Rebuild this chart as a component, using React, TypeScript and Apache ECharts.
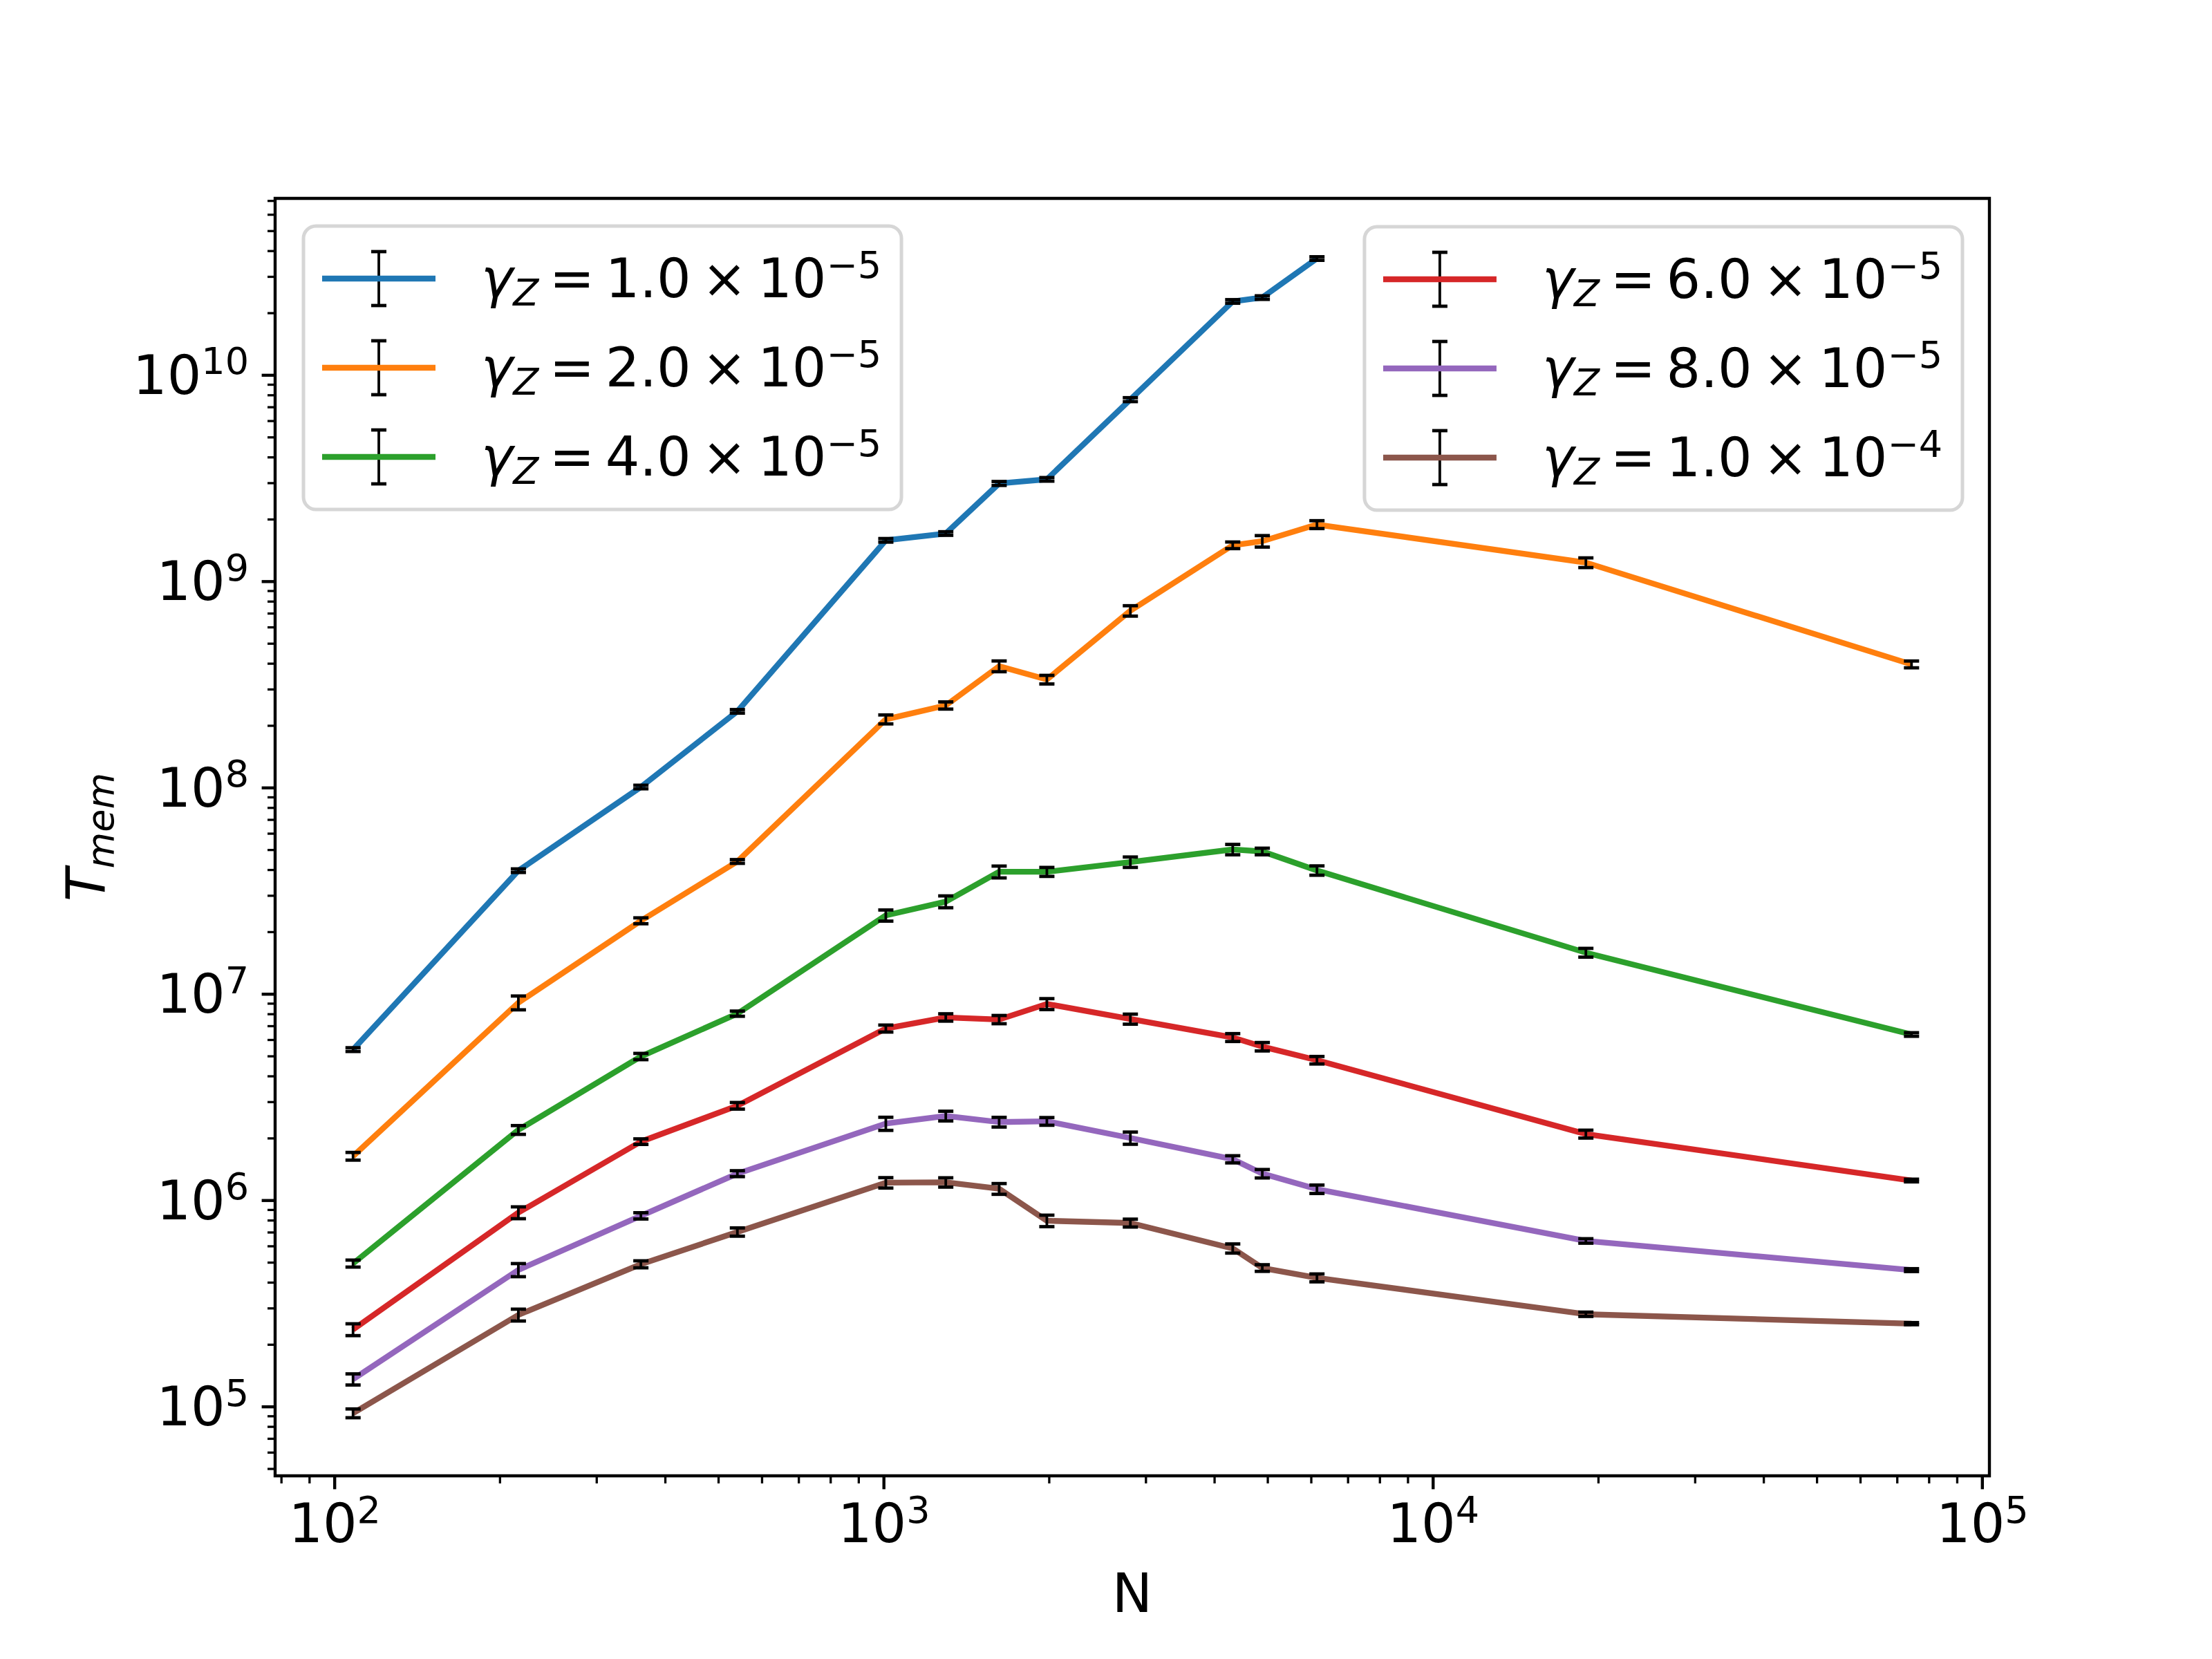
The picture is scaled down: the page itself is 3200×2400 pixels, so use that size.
import React, { useEffect, useRef } from 'react';
import * as echarts from 'echarts';

// ---- data ----
const N_VALUES = [108, 216, 361, 541, 1008, 1296, 1621, 1980, 2810, 4316, 4886, 6144, 18970, 74300];

const GAMMA_MANTISSA = ['1.0', '2.0', '4.0', '6.0', '8.0', '1.0'];
const GAMMA_EXPONENT = ['−5', '−5', '−5', '−5', '−5', '−4'];
const COLORS = ['#1f77b4', '#ff7f0e', '#2ca02c', '#d62728', '#9467bd', '#8c564b'];

const T_G1 = [5.39e6, 3.97e7, 1.01e8, 2.35e8, 1.585e9, 1.71e9, 2.99e9, 3.13e9, 7.62e9, 2.28e10, 2.38e10, 3.68e10];
const T_G2 = [1.64e6, 9.1e6, 2.27e7, 4.4e7, 2.15e8, 2.51e8, 3.89e8, 3.35e8, 7.22e8, 1.5e9, 1.57e9, 1.89e9, 1.236e9, 3.97e8];
const T_G4 = [4.95e5, 2.2e6, 4.99e6, 8.05e6, 2.41e7, 2.81e7, 3.92e7, 3.92e7, 4.37e7, 5.03e7, 4.92e7, 3.98e7, 1.59e7, 6.38e6];
const T_G6 = [2.37e5, 8.74e5, 1.93e6, 2.88e6, 6.82e6, 7.72e6, 7.54e6, 8.97e6, 7.58e6, 6.17e6, 5.57e6, 4.79e6, 2.1e6, 1.25e6];
const T_G8 = [1.36e5, 4.61e5, 8.43e5, 1.35e6, 2.36e6, 2.57e6, 2.4e6, 2.42e6, 2.01e6, 1.585e6, 1.35e6, 1.135e6, 6.37e5, 4.6e5];
const T_G10 = [9.31e4, 2.79e5, 4.91e5, 7.04e5, 1.22e6, 1.225e6, 1.14e6, 7.98e5, 7.78e5, 5.86e5, 4.71e5, 4.22e5, 2.81e5, 2.53e5];

// relative half-widths of the error bars
const E_G1 = [0.021, 0.02, 0.02, 0.02, 0.02, 0.02, 0.022, 0.02, 0.022, 0.02, 0.02, 0.02];
const E_G2 = [0.043, 0.077, 0.033, 0.021, 0.05, 0.04, 0.06, 0.048, 0.058, 0.037, 0.064, 0.044, 0.054, 0.038];
const E_G4 = [0.039, 0.049, 0.035, 0.029, 0.062, 0.066, 0.066, 0.05, 0.058, 0.058, 0.037, 0.052, 0.049, 0.02];
const E_G6 = [0.066, 0.066, 0.031, 0.037, 0.039, 0.041, 0.046, 0.061, 0.056, 0.044, 0.047, 0.042, 0.044, 0.015];
const E_G8 = [0.062, 0.073, 0.035, 0.033, 0.073, 0.054, 0.054, 0.043, 0.068, 0.04, 0.047, 0.047, 0.025, 0.016];
const E_G10 = [0.049, 0.066, 0.039, 0.046, 0.058, 0.052, 0.06, 0.064, 0.044, 0.051, 0.037, 0.044, 0.024, 0.012];

const SERIES_T = [T_G1, T_G2, T_G4, T_G6, T_G8, T_G10];
const SERIES_E = [E_G1, E_G2, E_G4, E_G6, E_G8, E_G10];

const X_MIN = 77.9;
const X_MAX = 103000;
const Y_MIN = 4.63e4;
const Y_MAX = 7.2e10;

// ---- style ----
const FONT = 'DejaVu Sans';
const FS = 78;
const SFS = 54;
const LH = 94;
const LINE_W = 8.3;
const TS = '\u2009'; // thin space, like mathtext spacing

const SERIES_NAMES = GAMMA_MANTISSA.map((m, i) => `γ_Z = ${m} × 10^${GAMMA_EXPONENT[i]}`);

const rich = {
  b: { fontFamily: FONT, fontSize: FS, lineHeight: LH, color: '#000' },
  i: { fontFamily: FONT, fontSize: FS, lineHeight: LH, color: '#000', fontStyle: 'italic' },
  s: { fontFamily: FONT, fontSize: SFS, lineHeight: SFS, color: '#000', verticalAlign: 'top' },
  sub: { fontFamily: FONT, fontSize: SFS, lineHeight: SFS, color: '#000', verticalAlign: 'bottom', fontStyle: 'italic' },
};

function legendIcon(color: string): string {
  const svg =
    `<svg xmlns="http://www.w3.org/2000/svg" width="225" height="94" viewBox="0 0 225 94">` +
    `<line x1="82" y1="8" x2="82" y2="86" stroke="#000" stroke-width="3.8"/>` +
    `<line x1="71" y1="8" x2="93" y2="8" stroke="#000" stroke-width="4.8"/>` +
    `<line x1="71" y1="86" x2="93" y2="86" stroke="#000" stroke-width="4.8"/>` +
    `<line x1="0" y1="47" x2="164" y2="47" stroke="${color}" stroke-width="${LINE_W}"/>` +
    `</svg>`;
  return 'image://data:image/svg+xml;charset=utf-8,' + encodeURIComponent(svg);
}

function powLabel(v: number): string {
  const l = Math.log10(v);
  const e = Math.round(l);
  if (Math.abs(l - e) > 1e-6) return '';
  return `{b|10}{s|${e}}`;
}

function legendFormatter(name: string): string {
  const i = SERIES_NAMES.indexOf(name);
  return `{i|γ}{sub|Z}{b|${TS}=${TS}${GAMMA_MANTISSA[i]}${TS}×${TS}10}{s|${GAMMA_EXPONENT[i]}}`;
}

function buildOption() {
  const series: any[] = [];
  SERIES_T.forEach((vals, si) => {
    const pts = vals.map((t, k) => [N_VALUES[k], t]);
    series.push({
      name: SERIES_NAMES[si],
      type: 'line',
      data: pts,
      showSymbol: false,
      symbol: 'none',
      silent: true,
      z: 2 + si * 2,
      lineStyle: { color: COLORS[si], width: LINE_W, join: 'round', cap: 'butt' },
      itemStyle: { color: COLORS[si] },
      emphasis: { disabled: true },
    });
    series.push({
      name: SERIES_NAMES[si] + ' error',
      type: 'custom',
      coordinateSystem: 'cartesian2d',
      silent: true,
      z: 3 + si * 2,
      data: vals.map((t, k) => [N_VALUES[k], t, t * SERIES_E[si][k]]),
      encode: { x: 0, y: 1 },
      renderItem: (params: any, api: any) => {
        const x = api.value(0);
        const y = api.value(1);
        const e = api.value(2);
        const top = api.coord([x, y + e]);
        const bot = api.coord([x, y - e]);
        const cx = top[0];
        return {
          type: 'group',
          children: [
            { type: 'line', shape: { x1: cx, y1: top[1], x2: cx, y2: bot[1] }, style: { stroke: '#000', lineWidth: 3.8 } },
            { type: 'line', shape: { x1: cx - 11, y1: top[1], x2: cx + 11, y2: top[1] }, style: { stroke: '#000', lineWidth: 4.8 } },
            { type: 'line', shape: { x1: cx - 11, y1: bot[1], x2: cx + 11, y2: bot[1] }, style: { stroke: '#000', lineWidth: 4.8 } },
          ],
        };
      },
    });
  });

  // axis ticks (major at powers of ten, minor at 2..9 x powers of ten)
  const xTicks: number[][] = [];
  const yTicks: number[][] = [];
  for (let d = 0; d <= 11; d++) {
    for (let k = 1; k <= 9; k++) {
      const v = k * Math.pow(10, d);
      if (v >= X_MIN && v <= X_MAX) xTicks.push([v, Y_MIN, k === 1 ? 1 : 0]);
      if (v >= Y_MIN && v <= Y_MAX) yTicks.push([X_MIN, v, k === 1 ? 1 : 0]);
    }
  }
  series.push({
    name: 'x ticks',
    type: 'custom',
    coordinateSystem: 'cartesian2d',
    silent: true,
    clip: false,
    z: 1,
    data: xTicks,
    encode: { x: 0, y: 1 },
    renderItem: (params: any, api: any) => {
      const p = api.coord([api.value(0), api.value(1)]);
      const major = api.value(2) === 1;
      return {
        type: 'line',
        shape: { x1: p[0], y1: p[1], x2: p[0], y2: p[1] + (major ? 19.4 : 11) },
        style: { stroke: '#000', lineWidth: major ? 4.4 : 3.3 },
      };
    },
  });
  series.push({
    name: 'y ticks',
    type: 'custom',
    coordinateSystem: 'cartesian2d',
    silent: true,
    clip: false,
    z: 1,
    data: yTicks,
    encode: { x: 0, y: 1 },
    renderItem: (params: any, api: any) => {
      const p = api.coord([api.value(0), api.value(1)]);
      const major = api.value(2) === 1;
      return {
        type: 'line',
        shape: { x1: p[0], y1: p[1], x2: p[0] - (major ? 19.4 : 11), y2: p[1] },
        style: { stroke: '#000', lineWidth: major ? 4.4 : 3.3 },
      };
    },
  });

  const legendCommon = {
    orient: 'vertical',
    itemWidth: 225,
    itemHeight: 94,
    itemGap: 35,
    padding: [29, 29, 29, 27],
    borderColor: '#d6d6d6',
    borderWidth: 5,
    borderRadius: 18,
    backgroundColor: 'rgba(255,255,255,0.8)',
    selectedMode: false,
    z: 100,
    formatter: legendFormatter,
    textStyle: { fontFamily: FONT, fontSize: FS, lineHeight: LH, color: '#000', rich },
  };

  return {
    animation: false,
    backgroundColor: '#ffffff',
    textStyle: { fontFamily: FONT },
    grid: {
      left: 398,
      right: 322,
      top: 287,
      bottom: 265,
      show: true,
      borderColor: '#000',
      borderWidth: 4.4,
      backgroundColor: 'transparent',
      containLabel: false,
      outerBoundsMode: 'none',
    },
    legend: [
      {
        ...legendCommon,
        left: 439,
        top: 327,
        data: [0, 1, 2].map((i) => ({ name: SERIES_NAMES[i], icon: legendIcon(COLORS[i]) })),
      },
      {
        ...legendCommon,
        right: 361,
        top: 328,
        data: [3, 4, 5].map((i) => ({ name: SERIES_NAMES[i], icon: legendIcon(COLORS[i]) })),
      },
    ],
    xAxis: {
      type: 'log',
      logBase: 10,
      min: X_MIN,
      max: X_MAX,
      name: 'N',
      nameLocation: 'middle',
      nameGap: 131,
      nameTextStyle: { fontFamily: FONT, fontSize: FS, color: '#000' },
      axisLine: { show: false },
      axisTick: { show: false },
      minorTick: { show: false },
      splitLine: { show: false },
      minorSplitLine: { show: false },
      axisLabel: {
        show: true,
        margin: 22,
        showMinLabel: false,
        showMaxLabel: false,
        formatter: (v: number) => powLabel(v),
        rich,
        color: '#000',
      },
    },
    yAxis: {
      type: 'log',
      logBase: 10,
      min: Y_MIN,
      max: Y_MAX,
      name: '{i|T}{sub|mem}',
      nameLocation: 'middle',
      nameRotate: 90,
      nameGap: 226,
      nameTextStyle: { fontFamily: FONT, fontSize: FS, color: '#000', rich },
      axisLine: { show: false },
      axisTick: { show: false },
      minorTick: { show: false },
      splitLine: { show: false },
      minorSplitLine: { show: false },
      axisLabel: {
        show: true,
        margin: 38,
        showMinLabel: false,
        showMaxLabel: false,
        formatter: (v: number) => powLabel(v),
        rich,
        color: '#000',
      },
    },
    series,
  };
}

export default function App() {
  const ref = useRef<HTMLDivElement>(null);
  useEffect(() => {
    if (!ref.current) return;
    const chart = echarts.init(ref.current, undefined, { renderer: 'svg' });
    chart.setOption(buildOption() as any);
    return () => {
      chart.dispose();
    };
  }, []);
  return (
    <div
      ref={ref}
      style={{ position: 'absolute', left: 0, top: 0, width: 3200, height: 2400, background: '#fff' }}
    />
  );
}
